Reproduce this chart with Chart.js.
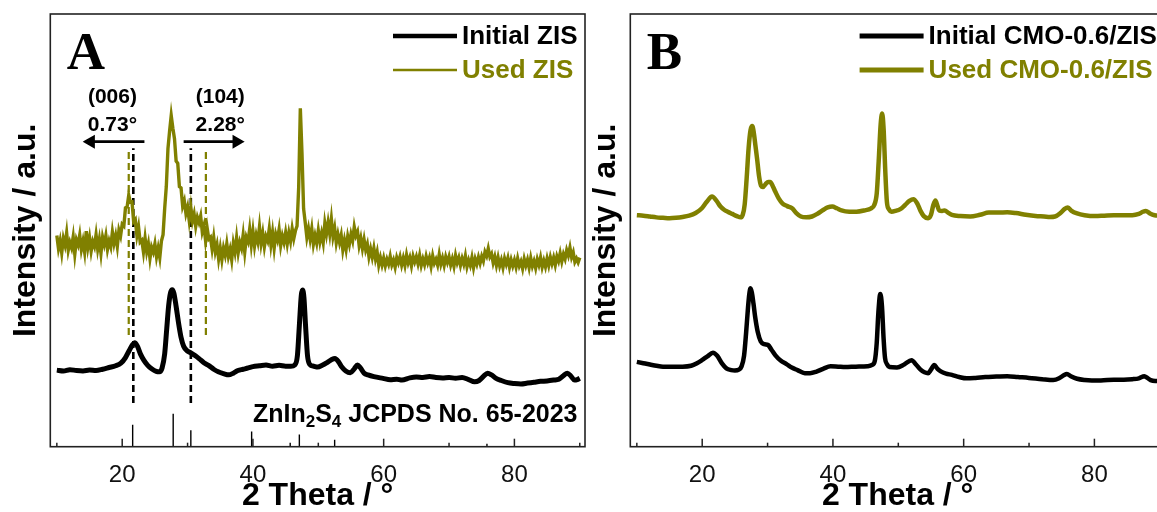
<!DOCTYPE html>
<html>
<head>
<meta charset="utf-8">
<script src="https://cdn.jsdelivr.net/npm/chart.js@4.4.1/dist/chart.umd.min.js"></script>
<style>
  html, body { margin: 0; padding: 0; overflow: hidden; background: #fff; }
  #wrap { position: relative; width: 1157px; height: 512px; overflow: hidden; background: #fff; }
  canvas { position: absolute; top: 0; }
</style>
</head>
<body>
<div id="wrap">
  <canvas id="chartA" width="600" height="512" style="left:0"></canvas>
  <canvas id="chartB" width="600" height="512" style="left:580px"></canvas>
</div>
<script>
// ---- data (intensity in arbitrary 0-100 units) ----

// panel A, Initial ZIS
var initialZIStheta = [10, 11, 12, 13, 14, 15, 16, 17, 18, 19, 19.8, 20.5, 21.1, 21.6, 21.9, 22.3, 22.8, 23.3, 23.9, 24.5,
  25.2, 25.7, 26.1, 26.5, 26.8, 27.1, 27.4, 27.65, 27.9, 28.25, 28.6, 29.0, 29.4, 29.9, 30.5, 31.2, 31.8, 32.5, 33.2, 34.0,
  34.7, 35.5, 36.3, 37.0, 37.7, 38.5, 39.3, 40.0, 41.0, 42.0, 43.0, 44.0, 45.0, 45.8, 46.4, 46.8, 47.1, 47.4, 47.6, 47.8,
  48.05, 48.35, 48.7, 49.3, 49.9, 50.6, 51.4, 52.0, 52.55, 53.1, 53.6, 54.2, 54.9, 55.5, 56.0, 56.4, 57.0, 57.6, 58.5, 59.9,
  61.0, 62.0, 62.8, 64.0, 65.0, 66.0, 67.0, 68.0, 69.0, 70.0, 71.0, 72.0, 73.0, 73.9, 74.6, 75.3, 75.9, 76.5, 77.2, 78.0,
  79.0, 80.0, 81.0, 82.0, 83.0, 84.0, 85.0, 86.0, 86.8, 87.5, 88.1, 88.6, 89.2, 89.6, 90.0];
var initialZIS = [17.7, 17.5, 17.8, 17.6, 17.5, 17.7, 17.6, 17.9, 18.3, 18.7, 19.3, 20.6, 22.3, 23.6, 24.0, 23.3, 21.4, 20.0, 18.8, 18.0,
  17.4, 17.3, 18.2, 21.5, 27.0, 32.5, 35.6, 36.3, 35.5, 32.4, 28.8, 25.3, 23.2, 22.2, 21.7, 21.0, 20.3, 19.4, 18.8, 17.9,
  17.3, 16.9, 16.6, 17.0, 17.6, 17.9, 18.2, 18.5, 18.7, 18.9, 18.6, 18.8, 18.6, 18.6, 18.9, 21.0, 28.0, 35.0, 36.2, 34.5,
  28.0, 21.0, 19.0, 18.6, 18.4, 18.8, 19.5, 20.1, 20.4, 19.6, 18.4, 17.5, 17.1, 18.0, 18.9, 18.3, 17.0, 16.6, 16.2, 15.8,
  15.5, 15.6, 15.4, 15.9, 16.1, 16.0, 16.2, 16.0, 15.9, 16.0, 15.8, 16.0, 15.5, 15.0, 15.3, 16.3, 17.0, 16.6, 15.8, 15.3,
  14.8, 14.6, 14.5, 14.7, 14.9, 15.1, 15.2, 15.4, 15.6, 16.4, 17.0, 16.4, 15.4, 15.5, 15.8];

// panel A, Used ZIS (noisy scan, 0.25 degree steps from 10 degrees)
var usedZISstart = 10;
var usedZISstep = 0.25;
var usedZIS = [
  48.8, 45.8, 47.6, 44.8, 48.1, 46.6, 49.4, 45.4, 47.2, 46.0, 48.5, 44.5, 47.8, 46.7, 48.9, 45.6, 47.5, 45.0, 49.8, 46.1,
  48.3, 45.2, 47.4, 46.3, 49.0, 45.7, 47.9, 44.7, 48.4, 46.8, 48.8, 45.6, 47.5, 46.2, 49.6, 47.0, 48.8, 46.3, 50.0, 48.7,
  51.4, 51.0, 55.2, 55.4, 58.1, 56.5, 56.6, 52.0, 52.5, 48.8, 50.8, 47.3, 47.7, 45.0, 48.2, 45.1, 46.9, 43.5, 46.1, 45.0,
  46.9, 43.9, 45.9, 43.7, 47.5, 49.0, 55.1, 60.2, 68.9, 72.9, 76.5, 73.6, 71.2, 66.0, 65.5, 60.1, 59.8, 55.6, 56.8, 53.9,
  55.4, 52.3, 55.3, 52.2, 53.8, 50.9, 53.0, 51.8, 53.3, 49.7, 51.1, 47.7, 50.5, 48.0, 48.4, 45.7, 48.4, 45.1, 46.7, 43.4,
  45.9, 43.2, 45.9, 44.3, 46.9, 44.0, 45.6, 43.2, 47.0, 45.0, 48.3, 44.9, 47.2, 45.9, 48.9, 45.0, 48.4, 47.4, 50.3, 46.7,
  49.8, 46.4, 48.9, 47.3, 50.8, 47.0, 49.3, 46.2, 48.6, 47.6, 50.4, 46.7, 49.5, 45.9, 49.1, 47.8, 50.2, 46.5, 48.7, 47.2,
  49.5, 46.9, 49.4, 47.5, 50.4, 48.1, 49.9, 51.0, 60.0, 78.2, 68.0, 55.0, 51.8, 48.4, 50.4, 48.0, 50.4, 46.8, 48.8, 47.1,
  50.0, 47.4, 49.3, 47.2, 51.6, 49.2, 51.8, 49.2, 52.6, 48.6, 50.5, 47.1, 49.1, 47.2, 48.9, 45.5, 47.7, 45.6, 48.6, 46.8,
  49.1, 47.6, 50.8, 48.8, 49.7, 46.5, 48.2, 45.8, 47.9, 45.5, 46.8, 43.9, 45.7, 43.8, 45.9, 43.4, 45.0, 42.0, 43.7, 42.0,
  43.6, 41.8, 43.3, 42.2, 44.0, 42.0, 43.1, 41.5, 43.7, 42.5, 43.9, 42.0, 43.6, 41.9, 44.3, 42.5, 43.7, 41.8, 44.0, 42.7,
  43.9, 42.3, 44.2, 41.9, 43.4, 42.1, 44.0, 42.5, 43.7, 41.7, 44.1, 42.4, 43.3, 42.0, 44.4, 42.2, 43.6, 41.9, 43.9, 42.6,
  43.9, 42.0, 43.4, 41.7, 44.2, 42.5, 43.7, 41.9, 43.5, 42.2, 44.1, 41.6, 43.1, 41.9, 43.7, 41.4, 43.4, 42.2, 43.8, 42.4,
  44.0, 42.9, 45.0, 44.1, 45.8, 43.9, 44.6, 42.5, 43.9, 41.9, 43.7, 41.8, 43.1, 41.4, 43.5, 42.2, 43.6, 41.5, 43.2, 41.8,
  43.1, 41.5, 43.5, 41.8, 42.8, 41.2, 43.4, 41.9, 43.2, 41.4, 43.6, 41.7, 42.9, 41.3, 43.3, 42.0, 43.7, 41.5, 43.0, 41.6,
  43.5, 41.9, 43.8, 42.3, 43.7, 42.0, 44.0, 42.9, 44.7, 42.8, 44.5, 43.4, 45.4, 44.2, 46.0, 43.8, 44.9, 42.7, 43.5, 42.6, 43.7];

// ZnIn2S4 reference pattern, JCPDS 65-2023
var jcpdsTheta = [21.6, 27.8, 30.5, 39.8, 45.7, 47.1, 52.5, 75.8];
var jcpdsHeight = [5.1, 7.6, 3.8, 3.5, 0.9, 2.8, 1.6, 0.7];

// peak position markers (dashed) and shift arrows in panel A
var markInitialTheta = [21.7, 30.5];
var markInitialSpan = [69, 10.1];
var markUsedTheta = [21.0, 32.8];
var markUsedSpan = [69, 25.8];
var arrowLeftTheta = [23.4, 15.2];
var arrowRightTheta = [29.4, 37.5];
var arrowLevel = 70.5;
var noteLabels = ['(006)', '0.73°', '(104)', '2.28°'];
var noteTheta = [18.5, 18.5, 35.0, 35.0];
var noteLevel = [80.8, 74.3, 80.8, 74.3];

// panel B, Initial CMO-0.6/ZIS
var initialCMOtheta = [10, 11, 12, 13, 14, 15.5, 17, 18.3, 19.2, 19.95, 20.8, 21.64, 22.3, 23.05, 23.7, 24.45, 25.0, 25.6, 26.0, 26.4,
  26.7, 27.0, 27.2, 27.39, 27.6, 27.85, 28.1, 28.5, 28.96, 29.5, 30.08, 30.6, 31.2, 32.0, 32.9, 33.7, 34.58, 35.7, 36.5, 37.4,
  38.5, 39.65, 40.8, 41.9, 43.5, 45.3, 46.0, 46.4, 46.7, 46.95, 47.25, 47.5, 47.75, 47.97, 48.3, 48.65, 49.8, 50.9, 52.03, 52.7,
  53.4, 54.0, 54.56, 55.0, 55.5, 56.0, 56.5, 57.3, 58.2, 59.3, 60.5, 61.8, 63.3, 65.0, 66.66, 68.3, 70.0, 72.0, 73.7, 74.6,
  75.3, 75.8, 76.4, 77.35, 78.5, 79.6, 81.0, 82.97, 84.5, 85.8, 86.8, 87.65, 88.1, 88.6, 89.3, 90.0];
var initialCMO = [19.6, 19.3, 19.0, 18.7, 18.5, 18.5, 18.5, 18.7, 19.3, 20.0, 20.9, 21.7, 21.0, 19.2, 18.1, 17.7, 17.6, 17.8, 18.5, 21.0,
  26.0, 32.0, 35.2, 36.6, 35.6, 33.0, 30.0, 26.5, 24.3, 23.7, 23.5, 22.4, 21.1, 19.9, 19.1, 18.3, 17.7, 17.0, 17.0, 17.3,
  18.0, 18.6, 18.5, 18.4, 18.5, 18.6, 18.9, 19.8, 24.0, 31.0, 35.3, 32.5, 25.0, 20.5, 19.0, 18.4, 18.3, 19.0, 20.0, 19.0,
  17.8, 17.2, 17.0, 17.8, 18.9, 18.0, 17.4, 16.9, 16.6, 16.1, 15.8, 15.9, 16.1, 16.2, 16.3, 16.1, 15.9, 15.6, 15.4, 15.8,
  16.5, 16.8, 16.3, 15.7, 15.4, 15.3, 15.3, 15.5, 15.5, 15.6, 15.8, 16.3, 15.9, 15.4, 15.2, 15.2];

// panel B, Used CMO-0.6/ZIS
var usedCMOtheta = [10, 11, 12, 13, 14, 15, 16, 17, 18, 19, 19.95, 20.7, 21.5, 22.2, 22.8, 23.4, 23.9, 24.6, 25.3, 25.86,
  26.2, 26.5, 26.8, 27.1, 27.4, 27.66, 27.9, 28.15, 28.4, 28.7, 29.0, 29.3, 29.7, 30.1, 30.4, 30.8, 31.2, 31.7, 32.3, 33.0,
  33.75, 34.4, 35.1, 35.9, 36.8, 37.7, 38.5, 39.2, 39.9, 40.6, 41.3, 42.5, 43.6, 44.8, 45.85, 46.3, 46.7, 47.0, 47.3, 47.53,
  47.75, 48.0, 48.26, 48.6, 48.94, 49.6, 50.3, 51.0, 51.7, 52.3, 52.9, 53.4, 53.9, 54.56, 55.0, 55.35, 55.68, 56.0, 56.25, 56.7,
  57.1, 57.6, 58.2, 59.5, 61.0, 62.5, 63.85, 65.3, 66.66, 68.0, 69.5, 71.0, 72.3, 73.2, 73.97, 74.8, 75.4, 75.94, 76.5, 77.35,
  78.5, 80.15, 81.5, 82.97, 84.5, 85.8, 86.8, 87.4, 87.87, 88.5, 89.2, 90.0];
var usedCMO = [53.5, 53.4, 53.2, 53.0, 52.9, 52.8, 52.9, 53.1, 53.4, 54.0, 55.1, 56.6, 57.8, 56.8, 55.5, 54.7, 54.3, 53.8, 53.3, 53.0,
  53.6, 56.0, 62.0, 69.0, 73.2, 74.1, 72.5, 69.5, 66.5, 62.5, 60.3, 60.0, 60.7, 61.2, 61.2, 60.2, 58.9, 57.4, 56.2, 55.6,
  55.1, 54.0, 53.2, 53.0, 53.2, 53.9, 54.7, 55.3, 55.5, 55.1, 54.6, 54.3, 54.3, 54.6, 55.1, 55.8, 58.5, 66.0, 74.5, 77.0,
  73.5, 64.0, 56.5, 54.8, 54.3, 54.5, 54.9, 55.8, 56.8, 57.2, 56.2, 54.5, 53.3, 52.8, 53.6, 55.8, 56.9, 55.6, 54.6, 54.5,
  54.6, 54.1, 53.6, 53.3, 53.2, 53.6, 54.1, 54.1, 54.2, 54.0, 53.6, 53.3, 53.2, 53.1, 53.2, 54.0, 54.9, 55.3, 54.5, 53.9,
  53.5, 53.3, 53.4, 53.5, 53.5, 53.5, 53.8, 54.3, 54.5, 53.9, 53.5, 53.4];

var tickMarks = [10, 20, 30, 40, 50, 60, 70, 80, 90];
var tickLabels = [20, 40, 60, 80];

var black = '#000000';
var olive = '#808000';
var sans = '"Liberation Sans", Arial, sans-serif';
var serif = '"Liberation Serif", "Times New Roman", serif';

function pairs(xs, ys) {
  return xs.map(function (x, i) { return {x: x, y: ys[i]}; });
}

function gridSeries(start, step, ys) {
  return ys.map(function (y, i) { return {x: start + i * step, y: y}; });
}

function verticals(xs, lo, hi) {
  var out = [];
  xs.forEach(function (x, i) {
    var top = Array.isArray(hi) ? hi[i] : hi;
    out.push({x: x, y: lo}, {x: x, y: top}, {x: x, y: null});
  });
  return out;
}

// draws the frame, inward ticks, panel letter, legend and notes
var decor = {
  id: 'decor',
  afterDatasetsDraw: function (chart, args, opts) {
    var ctx = chart.ctx, a = chart.chartArea, xs = chart.scales.x, ys = chart.scales.y;
    ctx.save();
    ctx.strokeStyle = '#222';
    ctx.lineWidth = 1.6;
    ctx.strokeRect(a.left, a.top, a.right - a.left, a.bottom - a.top);

    ctx.lineWidth = 1.5;
    tickMarks.forEach(function (v) {
      var px = xs.getPixelForValue(v);
      var len = tickLabels.indexOf(v) >= 0 ? 8 : 4;
      ctx.beginPath();
      ctx.moveTo(px, a.bottom);
      ctx.lineTo(px, a.bottom - len);
      ctx.stroke();
    });

    ctx.fillStyle = black;
    ctx.textBaseline = 'alphabetic';
    ctx.textAlign = 'left';
    ctx.font = 'bold 53px ' + serif;
    ctx.fillText(opts.letter, a.left + 16.5, 69);

    // legend
    ctx.font = 'bold 26px ' + sans;
    ctx.textBaseline = 'middle';
    var row = 0;
    chart.data.datasets.forEach(function (ds) {
      if (!ds.inLegend) return;
      var yy = opts.legendTop + row * opts.legendGap;
      ctx.strokeStyle = ds.borderColor;
      ctx.lineWidth = ds.legendWidth;
      ctx.beginPath();
      ctx.moveTo(opts.legendLeft, yy);
      ctx.lineTo(opts.legendLeft + 64, yy);
      ctx.stroke();
      ctx.fillStyle = ds.borderColor;
      ctx.fillText(ds.label, opts.legendLeft + 69, yy + 1);
      row++;
    });

    if (opts.notes) {
      ctx.fillStyle = black;
      ctx.textAlign = 'center';
      ctx.font = 'bold 21px ' + sans;
      noteLabels.forEach(function (t, i) {
        ctx.fillText(t, xs.getPixelForValue(noteTheta[i]), ys.getPixelForValue(noteLevel[i]));
      });

      // ZnIn2S4 JCPDS No. 65-2023, right aligned with subscripts
      var parts = [['ZnIn', 0], ['2', 1], ['S', 0], ['4', 1], [' JCPDS No. 65-2023', 0]];
      var big = 'bold 25px ' + sans, small = 'bold 17px ' + sans;
      var total = 0;
      parts.forEach(function (p) { ctx.font = p[1] ? small : big; total += ctx.measureText(p[0]).width; });
      var cx = a.right - 7.5 - total;
      ctx.textAlign = 'left';
      ctx.textBaseline = 'alphabetic';
      parts.forEach(function (p) {
        ctx.font = p[1] ? small : big;
        ctx.fillText(p[0], cx, p[1] ? 427 : 421.5);
        cx += ctx.measureText(p[0]).width;
      });
    }
    ctx.restore();
  }
};

function baseOptions(letter, legendLeft, notes) {
  return {
    responsive: false,
    animation: false,
    devicePixelRatio: 1,
    layout: {padding: {top: 14, right: 15, left: 0, bottom: 0}},
    elements: {point: {radius: 0}},
    plugins: {
      legend: {display: false},
      tooltip: {enabled: false},
      decor: {letter: letter, legendLeft: legendLeft, legendTop: 36, legendGap: 34, notes: notes}
    },
    scales: {
      x: {
        type: 'linear',
        min: 9,
        max: 90.8,
        grid: {display: false},
        border: {display: false},
        afterBuildTicks: function (s) { s.ticks = tickLabels.map(function (v) { return {value: v}; }); },
        afterFit: function (s) { s.height = 65.3; },
        ticks: {padding: 6, color: '#111', font: {family: sans, size: 24}},
        title: {display: true, text: '2 Theta / °', color: black,
          font: {family: sans, size: 32, weight: 'bold', lineHeight: 1}, padding: {top: 0, bottom: 0}}
      },
      y: {
        type: 'linear',
        min: 0,
        max: 100,
        grid: {display: false},
        border: {display: false},
        ticks: {display: false},
        afterFit: function (s) { s.width = 50.3; },
        title: {display: true, text: 'Intensity / a.u.', color: black,
          font: {family: sans, size: 32, weight: 'bold', lineHeight: 1}, padding: {top: 10, bottom: 0}}
      }
    }
  };
}

new Chart(document.getElementById('chartA'), {
  type: 'line',
  plugins: [decor],
  data: {
    datasets: [
      {label: 'Initial ZIS', inLegend: true, legendWidth: 4.5, data: pairs(initialZIStheta, initialZIS),
        borderColor: black, borderWidth: 5, cubicInterpolationMode: 'monotone'},
      {label: 'Used ZIS', inLegend: true, legendWidth: 2.5, data: gridSeries(usedZISstart, usedZISstep, usedZIS),
        borderColor: olive, borderWidth: 3.4, tension: 0},
      {label: 'JCPDS', data: verticals(jcpdsTheta, 0, jcpdsHeight), borderColor: black, borderWidth: 1.4, spanGaps: false},
      {label: 'mark initial', data: verticals(markInitialTheta, markInitialSpan[1], markInitialSpan[0]),
        borderColor: black, borderWidth: 2.6, borderDash: [7, 4], spanGaps: false},
      {label: 'mark used', data: verticals(markUsedTheta, markUsedSpan[1], markUsedSpan[0]),
        borderColor: olive, borderWidth: 2.2, borderDash: [7, 4], spanGaps: false},
      {label: 'arrow left', data: arrowLeftTheta.map(function (t) { return {x: t, y: arrowLevel}; }),
        borderColor: black, borderWidth: 2.6, pointRadius: [0, 5.5], pointStyle: 'triangle', pointRotation: -90,
        pointBackgroundColor: black, pointBorderColor: black},
      {label: 'arrow right', data: arrowRightTheta.map(function (t) { return {x: t, y: arrowLevel}; }),
        borderColor: black, borderWidth: 2.6, pointRadius: [0, 5.5], pointStyle: 'triangle', pointRotation: 90,
        pointBackgroundColor: black, pointBorderColor: black}
    ]
  },
  options: baseOptions('A', 393, true)
});

new Chart(document.getElementById('chartB'), {
  type: 'line',
  plugins: [decor],
  data: {
    datasets: [
      {label: 'Initial CMO-0.6/ZIS', inLegend: true, legendWidth: 5, data: pairs(initialCMOtheta, initialCMO),
        borderColor: black, borderWidth: 4.5, cubicInterpolationMode: 'monotone'},
      {label: 'Used CMO-0.6/ZIS', inLegend: true, legendWidth: 5, data: pairs(usedCMOtheta, usedCMO),
        borderColor: olive, borderWidth: 4.5, cubicInterpolationMode: 'monotone'}
    ]
  },
  options: baseOptions('B', 279.6, false)
});
</script>
</body>
</html>
